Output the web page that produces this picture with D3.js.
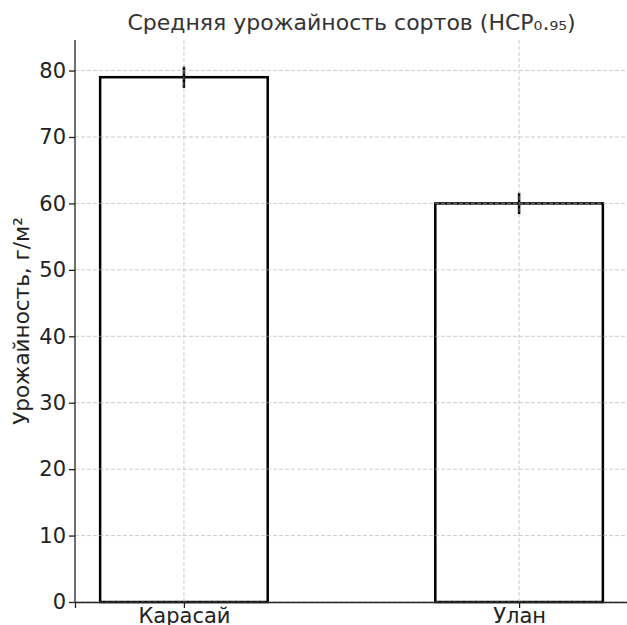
<!DOCTYPE html>
<html>
<head>
<meta charset="utf-8">
<script src="https://cdn.jsdelivr.net/npm/d3@7"></script>
<style>
  body { margin: 0; background: #fff; }
  text { font-family: "DejaVu Sans", sans-serif; }
</style>
</head>
<body>
<div id="chart"></div>
<script>
// Data
const varieties = ["Карасай", "Улан"];
const yields = [79, 60];
const lsd = [1.6, 1.6];
const yTicks = [0, 10, 20, 30, 40, 50, 60, 70, 80];

let width = 627, height = 625;
let margin = { top: 40, bottom: 23, left: 75, right: -1 };

let svg = d3.select('#chart')
            .append('svg')
            .attr('width', width)
            .attr('height', height)
            .style('background', '#fff');

// x as positions 0,1 with matplotlib-like margins
let xScale = d3.scaleLinear()
               .domain([-0.325, 1.325])
               .range([margin.left, width - margin.right]);

let yScale = d3.scaleLinear()
               .domain([0, 84.6])
               .range([height - margin.bottom, margin.top]);

const barW = 0.5;

// Bars
svg.selectAll('rect.bar')
   .data(yields)
   .enter()
   .append('rect')
   .attr('class', 'bar')
   .attr('x', (d, i) => xScale(i - barW / 2))
   .attr('y', d => yScale(d))
   .attr('width', xScale(barW) - xScale(0))
   .attr('height', d => yScale(0) - yScale(d))
   .attr('fill', '#fff')
   .attr('stroke', '#000')
   .attr('stroke-width', 2.5);

// Error bars
svg.selectAll('line.err')
   .data(yields)
   .enter()
   .append('line')
   .attr('x1', (d, i) => xScale(i))
   .attr('x2', (d, i) => xScale(i))
   .attr('y1', (d, i) => yScale(d - lsd[i]))
   .attr('y2', (d, i) => yScale(d + lsd[i]))
   .attr('stroke', '#000')
   .attr('stroke-width', 2.5);

// Grid (drawn over bars)
let grid = svg.append('g');
grid.selectAll('line.h')
    .data(yTicks)
    .enter()
    .append('line')
    .attr('x1', margin.left)
    .attr('x2', width - margin.right)
    .attr('y1', d => yScale(d))
    .attr('y2', d => yScale(d))
    .attr('stroke', '#b0b0b0')
    .attr('stroke-opacity', 0.7)
    .attr('stroke-width', 0.9)
    .attr('stroke-dasharray', '4,2');
grid.selectAll('line.v')
    .data(varieties)
    .enter()
    .append('line')
    .attr('x1', (d, i) => xScale(i))
    .attr('x2', (d, i) => xScale(i))
    .attr('y1', margin.top)
    .attr('y2', height - margin.bottom)
    .attr('stroke', '#b0b0b0')
    .attr('stroke-opacity', 0.7)
    .attr('stroke-width', 0.9)
    .attr('stroke-dasharray', '4,2');

// Axes
let yAxis = svg.append('g')
   .attr('transform', `translate(${margin.left},0)`)
   .call(d3.axisLeft(yScale).tickValues(yTicks).tickSize(6).tickPadding(3));

let xAxis = svg.append('g')
   .attr('transform', `translate(0,${height - margin.bottom})`)
   .call(d3.axisBottom(xScale).tickValues([0, 1]).tickFormat(i => varieties[i]).tickSize(6).tickPadding(0));

[yAxis, xAxis].forEach(ax => {
  ax.select('.domain').attr('stroke', '#222').attr('stroke-width', 1.3);
  ax.selectAll('.tick line').attr('stroke', '#222').attr('stroke-width', 1.3);
  ax.selectAll('.tick text')
    .attr('fill', '#222')
    .style('font-size', '21px')
    .style('font-family', 'DejaVu Sans');
});
yAxis.select('.domain').attr('d', `M0,${yScale(0)}V${margin.top}`);

// Title
svg.append('text')
   .attr('x', (margin.left + width - margin.right) / 2)
   .attr('y', 30)
   .attr('text-anchor', 'middle')
   .attr('fill', '#333')
   .style('font-size', '22px')
   .text('Средняя урожайность сортов (НСР₀.₉₅)');

// Y label
svg.append('text')
   .attr('transform', `translate(29,${(margin.top + height - margin.bottom) / 2}) rotate(-90)`)
   .attr('text-anchor', 'middle')
   .attr('fill', '#222')
   .style('font-size', '21.5px')
   .text('Урожайность, г/м²');
</script>
</body>
</html>
